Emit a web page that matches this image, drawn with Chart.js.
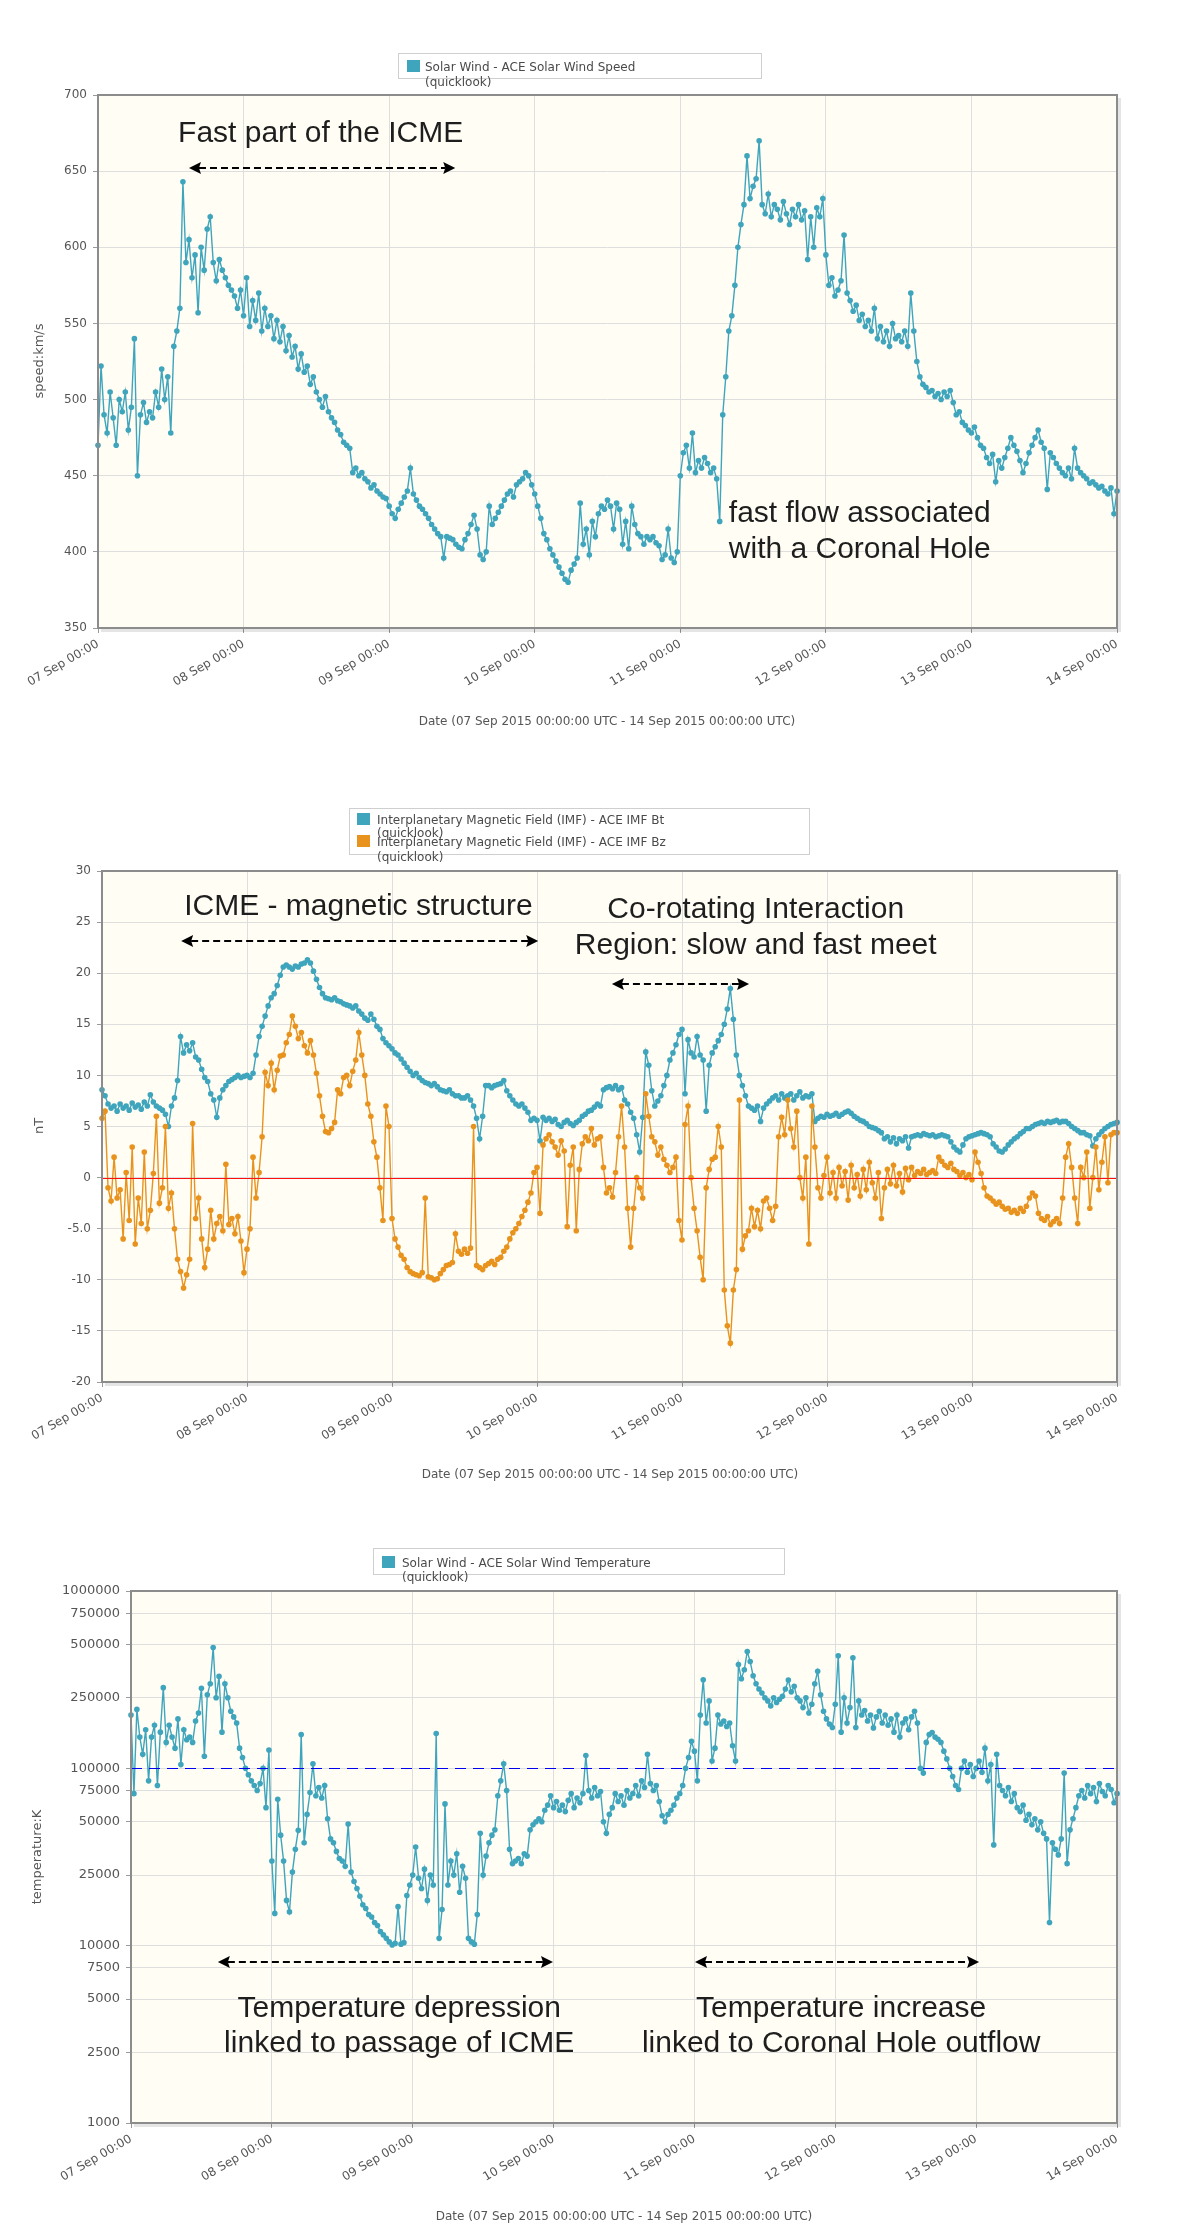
<!DOCTYPE html>
<html><head><meta charset="utf-8">
<script src="https://cdn.jsdelivr.net/npm/chart.js@4.4.1/dist/chart.umd.min.js"></script>
<style>
html,body{margin:0;padding:0;background:#fff;}
.box{position:relative;width:1185px;}
canvas{display:block;}
</style></head><body>
<div class="box" style="height:740px"><canvas id="c1" width="1185" height="740"></canvas></div>
<div class="box" style="height:760px"><canvas id="c2" width="1185" height="760"></canvas></div>
<div class="box" style="height:728px"><canvas id="c3" width="1185" height="728"></canvas></div>
<script>
// ---------- DATA ----------
// samples every 30 minutes starting 07 Sep 2015 00:00 UTC (hours 0 ... 168)
const sampleStepHours = 0.5;
const xTickHours = [0, 24, 48, 72, 96, 120, 144, 168];
const xTickLabels = ['07 Sep 00:00','08 Sep 00:00','09 Sep 00:00','10 Sep 00:00','11 Sep 00:00','12 Sep 00:00','13 Sep 00:00','14 Sep 00:00'];

const speedTicks = [350, 400, 450, 500, 550, 600, 650, 700];
const speedTickLabels = ['350','400','450','500','550','600','650','700'];
const imfTicks = [-20, -15, -10, -5, 0, 5, 10, 15, 20, 25, 30];
const imfTickLabels = ['-20','-15','-10','-5.0','0','5','10','15','20','25','30'];
const tempTicks = [1000, 2500, 5000, 7500, 10000, 25000, 50000, 75000, 100000, 250000, 500000, 750000, 1000000];
const tempTickLabels = ['1000','2500','5000','7500','10000','25000','50000','75000','100000','250000','500000','750000','1000000'];

// Solar wind speed (km/s)
const speed = [
470,522,490,478,505,488,470,500,492,505,480,495,
540,450,490,498,485,492,488,505,495,520,500,515,
478,535,545,560,643,590,605,580,595,557,600,585,
612,620,590,578,592,585,580,575,572,568,560,572,
555,580,548,565,552,570,545,560,548,555,540,552,
538,548,532,542,528,535,520,530,518,522,510,515,
505,500,495,502,492,488,485,480,477,472,470,468,
452,455,450,452,448,446,442,444,440,438,436,435,
430,425,422,428,432,436,440,455,438,434,430,428,
425,422,418,415,412,410,396,410,409,408,405,403,
402,408,412,418,424,415,398,395,400,430,418,422,
426,430,434,438,440,436,444,446,448,452,450,444,
438,430,422,412,408,402,398,394,390,386,382,380,
388,392,396,432,405,415,398,420,410,425,430,428,
434,430,415,432,428,405,420,402,430,418,412,410,
405,410,408,410,406,404,395,398,415,396,393,400,
450,465,470,455,478,452,460,455,462,458,452,455,
448,420,490,515,545,555,575,600,615,628,660,632,
640,645,670,628,622,635,620,628,625,618,630,622,
615,625,620,628,618,624,592,620,600,626,620,632,
595,575,580,568,572,578,608,570,565,558,562,552,
556,548,552,545,560,540,548,538,545,535,550,540,
542,538,545,535,570,545,525,515,510,508,505,506,
502,504,500,505,502,506,498,490,492,485,483,480,
478,482,475,470,468,462,458,464,446,460,455,462,
468,475,470,466,460,452,458,465,470,475,480,472,
468,441,465,462,458,455,452,450,455,448,468,455,
452,450,448,445,446,444,442,443,440,438,442,425,
440
];

// IMF Bt (nT)
const imfBt = [
8.6,8.0,7.2,6.8,7.0,6.5,7.2,6.8,7.0,6.6,7.3,6.9,
7.1,6.7,7.4,7.0,8.1,7.4,7.0,6.8,6.6,6.2,5.0,7.0,
7.8,9.5,13.8,12.2,13.0,12.4,13.2,11.8,11.5,10.6,9.8,9.4,
8.2,7.6,5.9,7.8,8.6,9.0,9.4,9.6,9.8,10.0,9.8,9.9,
10.0,9.8,10.2,12.0,13.8,14.8,15.8,16.8,17.6,18.0,18.8,19.8,
20.6,20.8,20.6,20.4,20.7,20.6,20.9,21.0,21.3,21.0,20.2,19.4,
18.6,18.0,17.6,17.5,17.4,17.6,17.3,17.2,17.0,16.9,16.8,16.6,
16.8,16.3,16.0,15.6,15.4,16.0,15.5,14.8,14.5,13.6,13.2,12.9,
12.6,12.2,12.0,11.6,11.2,10.8,10.4,10.0,10.2,9.8,9.5,9.3,
9.2,9.0,9.2,8.9,8.6,8.5,8.4,8.6,8.2,8.0,8.0,7.8,
7.8,8.0,7.6,7.0,5.8,3.8,6.0,9.0,9.0,8.8,9.0,9.1,
9.2,9.5,8.5,8.0,7.6,7.2,7.0,7.2,6.8,6.4,5.6,5.8,
5.6,3.6,5.9,5.6,5.8,5.5,5.7,5.2,5.0,5.4,5.6,5.3,
5.1,5.4,5.6,6.0,6.2,6.5,6.6,6.9,7.2,7.0,8.6,8.8,
8.9,8.7,9.0,8.6,8.8,7.6,7.2,6.4,5.8,4.2,2.5,5.9,
12.3,11.0,8.5,7.0,7.5,8.0,9.0,10.0,11.5,12.2,13.0,14.0,
14.5,8.2,13.5,12.2,11.8,13.8,12.0,11.5,6.5,11.0,12.2,12.8,
13.4,14.0,15.0,16.5,18.5,15.5,12.0,10.0,9.0,8.0,7.0,6.8,
6.6,7.0,5.5,6.8,7.2,7.5,7.8,8.0,7.6,8.2,7.8,8.0,
8.2,7.6,8.0,8.4,7.8,8.0,7.9,8.2,5.5,5.8,6.0,5.9,
6.2,6.0,6.1,6.3,6.0,6.2,6.4,6.5,6.3,6.0,5.8,5.6,
5.5,5.3,5.0,4.9,4.8,4.6,4.4,3.8,4.0,3.5,3.9,3.3,
3.8,3.6,4.0,2.9,4.0,4.1,4.2,4.1,4.3,4.2,4.1,4.2,
4.0,4.1,4.2,4.1,4.0,3.5,3.0,2.7,2.5,3.2,3.8,4.0,
4.1,4.2,4.3,4.4,4.3,4.2,4.0,3.3,3.0,2.6,2.5,2.8,
3.2,3.5,3.8,4.0,4.3,4.5,4.8,4.8,5.0,5.2,5.3,5.4,
5.3,5.5,5.4,5.5,5.6,5.4,5.5,5.5,5.3,5.0,4.8,4.6,
4.4,4.4,4.2,4.1,3.1,3.8,4.2,4.5,4.8,5.0,5.2,5.3,
5.4
];

// IMF Bz (nT)
const imfBz = [
5.8,6.5,-1.0,-2.3,2.0,-2.0,-1.2,-6.0,0.5,-4.2,3.0,-6.5,
-2.0,-4.5,2.5,-5.0,-3.2,0.4,6.0,-2.5,-1.0,5.0,-3.0,-1.5,
-5.0,-8.0,-9.2,-10.8,-9.5,-8.0,5.3,-4.0,-2.0,-6.0,-8.8,-7.0,
-3.2,-6.0,-4.5,-3.8,-5.2,1.3,-4.6,-4.0,-5.5,-3.8,-6.2,-9.3,
-7.0,-5.0,2.0,-2.0,0.5,4.0,10.3,9.0,11.2,8.6,10.5,11.9,
12.0,13.2,14.0,15.8,14.8,13.6,14.2,12.9,12.2,13.4,12.0,10.2,
8.0,6.0,4.5,4.4,4.8,5.4,8.6,8.2,9.8,10.0,9.0,10.4,
11.5,14.2,12.0,10.0,7.2,6.0,3.5,2.0,-1.0,-4.2,7.0,5.0,
-4.0,-6.0,-6.8,-7.6,-8.0,-8.8,-9.2,-9.4,-9.5,-9.6,-9.3,-2.0,
-9.7,-9.8,-10.0,-9.9,-9.4,-9.0,-8.6,-8.5,-8.3,-5.5,-7.2,-7.5,
-7.0,-7.4,-6.9,5.0,-8.6,-8.8,-9.0,-8.6,-8.4,-8.2,-8.5,-8.0,
-7.8,-7.2,-6.8,-6.0,-5.4,-5.0,-4.5,-3.8,-3.2,-2.4,-1.5,0.5,
1.0,-3.5,3.2,3.8,4.2,3.5,3.0,2.2,3.6,2.6,-4.8,1.2,
3.0,-5.2,0.8,3.3,4.0,3.6,4.8,3.2,3.8,4.0,1.0,-1.5,
-1.0,-1.9,0.5,4.0,7.0,3.0,-3.0,-6.8,-3.0,0.0,-1.0,-2.0,
8.2,6.0,4.0,3.5,2.2,3.0,1.8,1.2,0.5,1.0,2.0,-4.2,
-6.1,5.2,7.0,0.0,-3.0,-5.2,-7.8,-10.0,-1.0,0.8,1.8,2.0,
5.0,3.0,-11.0,-14.5,-16.2,-11.0,-9.0,7.6,-7.0,-5.7,-5.2,-3.0,
-4.8,-3.2,-5.0,-2.3,-2.0,-3.0,-4.2,-2.8,4.0,5.9,4.2,7.6,
4.8,3.0,6.5,0.0,-2.0,2.0,-6.5,7.0,3.0,-1.0,-2.0,0.2,
2.0,-1.5,0.5,-2.0,1.0,-0.8,0.6,-2.2,1.2,-1.0,0.3,-1.8,
0.8,-1.2,1.5,-0.5,-2.0,0.5,-4.0,-1.0,0.8,-0.6,1.2,-0.8,
0.4,-1.4,0.9,-0.2,1.0,0.2,0.6,0.4,0.8,0.3,0.5,0.7,
0.4,2.0,1.6,1.2,1.0,1.4,0.8,0.6,0.2,0.5,0.0,0.3,
-0.2,2.5,1.5,0.4,-1.0,-1.8,-2.0,-2.3,-2.6,-2.4,-2.8,-3.1,
-3.0,-3.4,-3.2,-3.5,-3.0,-3.3,-2.8,-2.0,-1.5,-1.8,-3.5,-4.0,
-4.2,-3.8,-4.6,-4.3,-4.0,-4.5,-2.0,2.0,3.3,1.0,-2.0,-4.5,
1.0,0.0,2.5,-3.0,0.0,3.0,-1.2,1.5,4.0,-0.5,4.2,4.4,
4.4
];

// Solar wind temperature (K)
const temperature = [
200000,72000,215000,150000,120000,165000,85000,150000,175000,80000,160000,285000,
140000,175000,150000,130000,190000,105000,165000,145000,150000,140000,185000,205000,
283000,117000,260000,300000,480000,250000,330000,160000,300000,250000,210000,195000,
180000,130000,115000,100000,92000,85000,80000,75000,82000,100000,60000,127000,
30000,15200,67000,42000,30000,18000,15500,26000,35000,44700,155000,38000,
55000,73000,106000,70000,78000,68000,80000,52000,40000,38000,34000,31000,
30000,28000,48500,26000,23000,21000,19000,17000,16200,15000,14500,13500,
13000,12000,11500,11000,10500,10100,10300,16600,10200,10400,19200,22000,
25000,36000,24000,21000,27000,18000,25000,22000,157000,11000,16000,63000,
22000,30000,25000,33000,20000,28000,24000,11000,10500,10200,15000,43000,
25000,32000,38000,42000,45000,70000,85000,106000,75000,35000,29000,30000,
31000,29000,33000,32000,45000,48000,50000,52000,50000,58000,62000,70000,
60000,65000,58000,62000,57000,66000,72000,60000,68000,64000,72000,118000,
75000,68000,78000,70000,74000,50000,43000,55000,60000,72000,65000,70000,
62000,75000,68000,72000,80000,70000,85000,78000,120000,82000,75000,80000,
65000,54000,50000,55000,58000,62000,68000,72000,80000,100000,115000,142000,
125000,85000,200000,316000,180000,240000,110000,130000,200000,178000,185000,172000,
180000,134000,110000,385000,320000,360000,456000,400000,333000,300000,280000,266000,
250000,240000,225000,250000,235000,245000,255000,280000,315000,270000,290000,250000,
240000,220000,250000,205000,230000,300000,353000,260000,210000,190000,178000,170000,
230000,431000,160000,250000,180000,220000,420000,170000,240000,200000,212000,185000,
200000,169000,195000,210000,180000,200000,175000,190000,160000,200000,150000,180000,
190000,165000,195000,210000,180000,100000,94000,140000,155000,159000,150000,146000,
140000,125000,113000,100000,90000,80000,76000,100000,110000,95000,105000,90000,
100000,110000,95000,130000,85000,105000,37000,120000,80000,75000,70000,78000,
65000,72000,60000,57000,62000,51000,55000,48000,52000,45000,50000,43000,
40000,13500,38000,35000,32500,40000,94000,29000,45000,52000,60000,70000,
75000,68000,80000,72000,78000,65000,82000,74000,70000,80000,76000,64000,
72000
];

// reference lines
const imfZeroLine = 0;
const tempRefLine = 100000;

// annotations (data coordinates: hours from start, axis value)
const speedNotes = [
  {text:'Fast part of the ICME', h:13.2, v:669, align:'left'},
  {text:'fast flow associated', h:104.0, v:419.6, align:'left'},
  {text:'with a Coronal Hole', h:104.0, v:396.0, align:'left'}
];
const speedArrows = [{from:15.0, to:58.9, v:652}];
const imfNotes = [
  {text:'ICME - magnetic structure', h:13.6, v:25.7, align:'left'},
  {text:'Co-rotating Interaction', h:108.2, v:25.4, align:'center'},
  {text:'Region: slow and fast meet', h:108.2, v:21.9, align:'center'}
];
const imfArrows = [{from:13.1, to:72.2, v:23.15}, {from:84.4, to:107.1, v:18.94}];
const tempNotes = [
  {text:'Temperature depression', h:45.7, v:3956, align:'center'},
  {text:'linked to passage of ICME', h:45.7, v:2512, align:'center'},
  {text:'Temperature increase', h:121.0, v:3956, align:'center'},
  {text:'linked to Coronal Hole outflow', h:121.0, v:2512, align:'center'}
];
const tempArrows = [{from:14.8, to:71.9, v:8090}, {from:96.1, to:144.5, v:8100}];

// ---------- STYLE ----------
const TEAL = '#3ea5bd';
const ORANGE = '#e8931e';
const GRID = '#dedede';
const TXT = '#555555';
const FONT = 'DejaVu Sans';

const decor = {
  c1: {
    plot:{left:98, right:1117, top:95, bottom:628},
    legend:{x:398, y:53, w:363, h:25, items:[{color:TEAL, sq:[407,60,13,12], tx:425, lines:[['Solar Wind - ACE Solar Wind Speed',71],['(quicklook)',86]]}]},
    xTitle:{text:'Date (07 Sep 2015 00:00:00 UTC - 14 Sep 2015 00:00:00 UTC)', x:607, y:722},
    yTitle:{text:'speed:km/s', x:40, y:361},
    notes:speedNotes, arrows:speedArrows, refLine:null
  },
  c2: {
    plot:{left:102, right:1117, top:131, bottom:642},
    legend:{x:349, y:68, w:460, h:46, items:[
      {color:TEAL, sq:[357,73,13,12], tx:377, lines:[['Interplanetary Magnetic Field (IMF) - ACE IMF Bt',84],['(quicklook)',97]]},
      {color:ORANGE, sq:[357,95,13,12], tx:377, lines:[['Interplanetary Magnetic Field (IMF) - ACE IMF Bz',106],['(quicklook)',121]]}
    ]},
    xTitle:{text:'Date (07 Sep 2015 00:00:00 UTC - 14 Sep 2015 00:00:00 UTC)', x:610, y:735},
    yTitle:{text:'nT', x:40, y:386},
    notes:imfNotes, arrows:imfArrows, refLine:{value:imfZeroLine, color:'#ff1010', width:1, dash:[]}
  },
  c3: {
    plot:{left:131, right:1117, top:91, bottom:623},
    legend:{x:373, y:48, w:411, h:26, items:[{color:TEAL, sq:[382,56,13,12], tx:402, lines:[['Solar Wind - ACE Solar Wind Temperature',67],['(quicklook)',81]]}]},
    xTitle:{text:'Date (07 Sep 2015 00:00:00 UTC - 14 Sep 2015 00:00:00 UTC)', x:624, y:717},
    yTitle:{text:'temperature:K', x:38, y:357},
    notes:tempNotes, arrows:tempArrows, refLine:{value:tempRefLine, color:'#0000ee', width:1.2, dash:[11,7]}
  }
};

function drawArrow(ctx, x1, x2, y) {
  ctx.save();
  ctx.strokeStyle = '#000'; ctx.fillStyle = '#000'; ctx.lineWidth = 2;
  ctx.setLineDash([7,4]);
  ctx.beginPath(); ctx.moveTo(x1 + 10, y); ctx.lineTo(x2 - 10, y); ctx.stroke();
  ctx.setLineDash([]);
  ctx.beginPath(); ctx.moveTo(x1, y); ctx.lineTo(x1 + 12, y - 6); ctx.lineTo(x1 + 10, y); ctx.lineTo(x1 + 12, y + 6); ctx.closePath(); ctx.fill();
  ctx.beginPath(); ctx.moveTo(x2, y); ctx.lineTo(x2 - 12, y - 6); ctx.lineTo(x2 - 10, y); ctx.lineTo(x2 - 12, y + 6); ctx.closePath(); ctx.fill();
  ctx.restore();
}

const decorPlugin = {
  id: 'decor',
  beforeDraw(chart) {
    const a = chart.chartArea, ctx = chart.ctx;
    ctx.save(); ctx.fillStyle = '#fffdf4'; ctx.fillRect(a.left, a.top, a.right - a.left, a.bottom - a.top); ctx.restore();
  },
  afterDatasetsDraw(chart) {
    const d = decor[chart.canvas.id], a = chart.chartArea, ctx = chart.ctx;
    const xs = chart.scales.x, ys = chart.scales.y;
    if (d.refLine) {
      const y = Math.round(ys.getPixelForValue(d.refLine.value)) + 0.5;
      ctx.save(); ctx.strokeStyle = d.refLine.color; ctx.lineWidth = d.refLine.width; ctx.setLineDash(d.refLine.dash);
      ctx.beginPath(); ctx.moveTo(a.left, y); ctx.lineTo(a.right, y); ctx.stroke(); ctx.restore();
    }
    // frame with soft shadow
    ctx.save();
    ctx.strokeStyle = 'rgba(0,0,0,0.10)'; ctx.lineWidth = 3;
    ctx.beginPath(); ctx.moveTo(a.left + 3, a.bottom + 2.5); ctx.lineTo(a.right + 2.5, a.bottom + 2.5); ctx.lineTo(a.right + 2.5, a.top + 3); ctx.stroke();
    ctx.strokeStyle = '#8c8c8c'; ctx.lineWidth = 2;
    ctx.strokeRect(a.left, a.top, a.right - a.left, a.bottom - a.top);
    ctx.restore();
    // annotations
    ctx.save();
    ctx.fillStyle = '#1e1e1e'; ctx.font = '30px "Liberation Sans", Arial, sans-serif'; ctx.textBaseline = 'alphabetic';
    d.notes.forEach(n => { ctx.textAlign = n.align; ctx.fillText(n.text, xs.getPixelForValue(n.h), ys.getPixelForValue(n.v)); });
    ctx.restore();
    d.arrows.forEach(ar => drawArrow(ctx, xs.getPixelForValue(ar.from), xs.getPixelForValue(ar.to), ys.getPixelForValue(ar.v)));
  },
  afterDraw(chart) {
    const d = decor[chart.canvas.id], ctx = chart.ctx;
    const lg = d.legend;
    ctx.save();
    ctx.fillStyle = '#ffffff'; ctx.fillRect(lg.x, lg.y, lg.w, lg.h);
    ctx.strokeStyle = '#cfcfcf'; ctx.lineWidth = 1; ctx.strokeRect(lg.x + 0.5, lg.y + 0.5, lg.w, lg.h);
    ctx.font = '12px "' + FONT + '"'; ctx.textAlign = 'left'; ctx.textBaseline = 'alphabetic';
    lg.items.forEach(it => {
      ctx.fillStyle = it.color; ctx.fillRect(it.sq[0], it.sq[1], it.sq[2], it.sq[3]);
      ctx.fillStyle = '#4a4a4a';
      it.lines.forEach(l => ctx.fillText(l[0], it.tx, l[1]));
    });
    ctx.fillStyle = TXT; ctx.font = '12px "' + FONT + '"'; ctx.textAlign = 'center'; ctx.textBaseline = 'middle';
    ctx.fillText(d.xTitle.text, d.xTitle.x, d.xTitle.y);
    ctx.translate(d.yTitle.x, d.yTitle.y); ctx.rotate(-Math.PI / 2);
    ctx.font = '13px "' + FONT + '"';
    ctx.fillText(d.yTitle.text, 0, 0);
    ctx.restore();
  }
};

function series(values, color, order) {
  return {
    data: values.map((v, i) => ({x: i * sampleStepHours, y: v})),
    borderColor: color, backgroundColor: color, pointBackgroundColor: color,
    borderWidth: 1.4, pointRadius: 2.8, pointBorderWidth: 0, pointHoverRadius: 0,
    tension: 0, order: order, clip: 3
  };
}

function makeChart(id, datasets, yCfg, tickSize) {
  const d = decor[id];
  const canvas = document.getElementById(id);
  const H = canvas.height, W = canvas.width;
  return new Chart(canvas, {
    type: 'line',
    data: { datasets: datasets },
    options: {
      responsive: false, animation: false, events: [],
      layout: { padding: { top: d.plot.top, right: W - d.plot.right, left: 0, bottom: 0 } },
      plugins: { legend: { display: false }, tooltip: { enabled: false } },
      scales: {
        x: {
          type: 'linear', min: 0, max: 168,
          afterFit: s => { s.height = H - d.plot.bottom; },
          afterBuildTicks: s => { s.ticks = xTickHours.map(v => ({value: v})); },
          ticks: {
            autoSkip: false, minRotation: 30, maxRotation: 30, padding: 4,
            color: TXT, font: { family: FONT, size: 12 },
            callback: v => xTickLabels[xTickHours.indexOf(v)]
          },
          grid: { color: GRID, tickColor: '#9a9a9a', tickLength: 5 },
          border: { display: false }
        },
        y: Object.assign({
          afterFit: s => { s.width = d.plot.left; },
          ticks: { autoSkip: false, padding: 6, color: TXT, font: { family: FONT, size: tickSize } },
          grid: { color: GRID, tickColor: '#9a9a9a', tickLength: 5 },
          border: { display: false }
        }, yCfg)
      }
    },
    plugins: [decorPlugin]
  });
}

function tickSetter(vals) { return s => { s.ticks = vals.map(v => ({value: v})); }; }
function labelFor(vals, labels) { return v => { const i = vals.indexOf(v); return i >= 0 ? labels[i] : ''; }; }

makeChart('c1', [series(speed, TEAL, 1)], {
  type: 'linear', min: 350, max: 700,
  afterBuildTicks: tickSetter(speedTicks)
}, 12);
makeChart('c2', [series(imfBt, TEAL, 2), series(imfBz, ORANGE, 1)], {
  type: 'linear', min: -20, max: 30,
  afterBuildTicks: tickSetter(imfTicks)
}, 12);
makeChart('c3', [series(temperature, TEAL, 1)], {
  type: 'logarithmic', min: 1000, max: 1000000,
  afterBuildTicks: tickSetter(tempTicks)
}, 13);

// tick label callbacks (label arrays are authoritative)
Chart.instances && Object.values(Chart.instances).forEach(ch => {
  const id = ch.canvas.id;
  const cb = id === 'c1' ? labelFor(speedTicks, speedTickLabels) : id === 'c2' ? labelFor(imfTicks, imfTickLabels) : labelFor(tempTicks, tempTickLabels);
  ch.options.scales.y.ticks.callback = cb;
  ch.update('none');
});
</script>
</body></html>
